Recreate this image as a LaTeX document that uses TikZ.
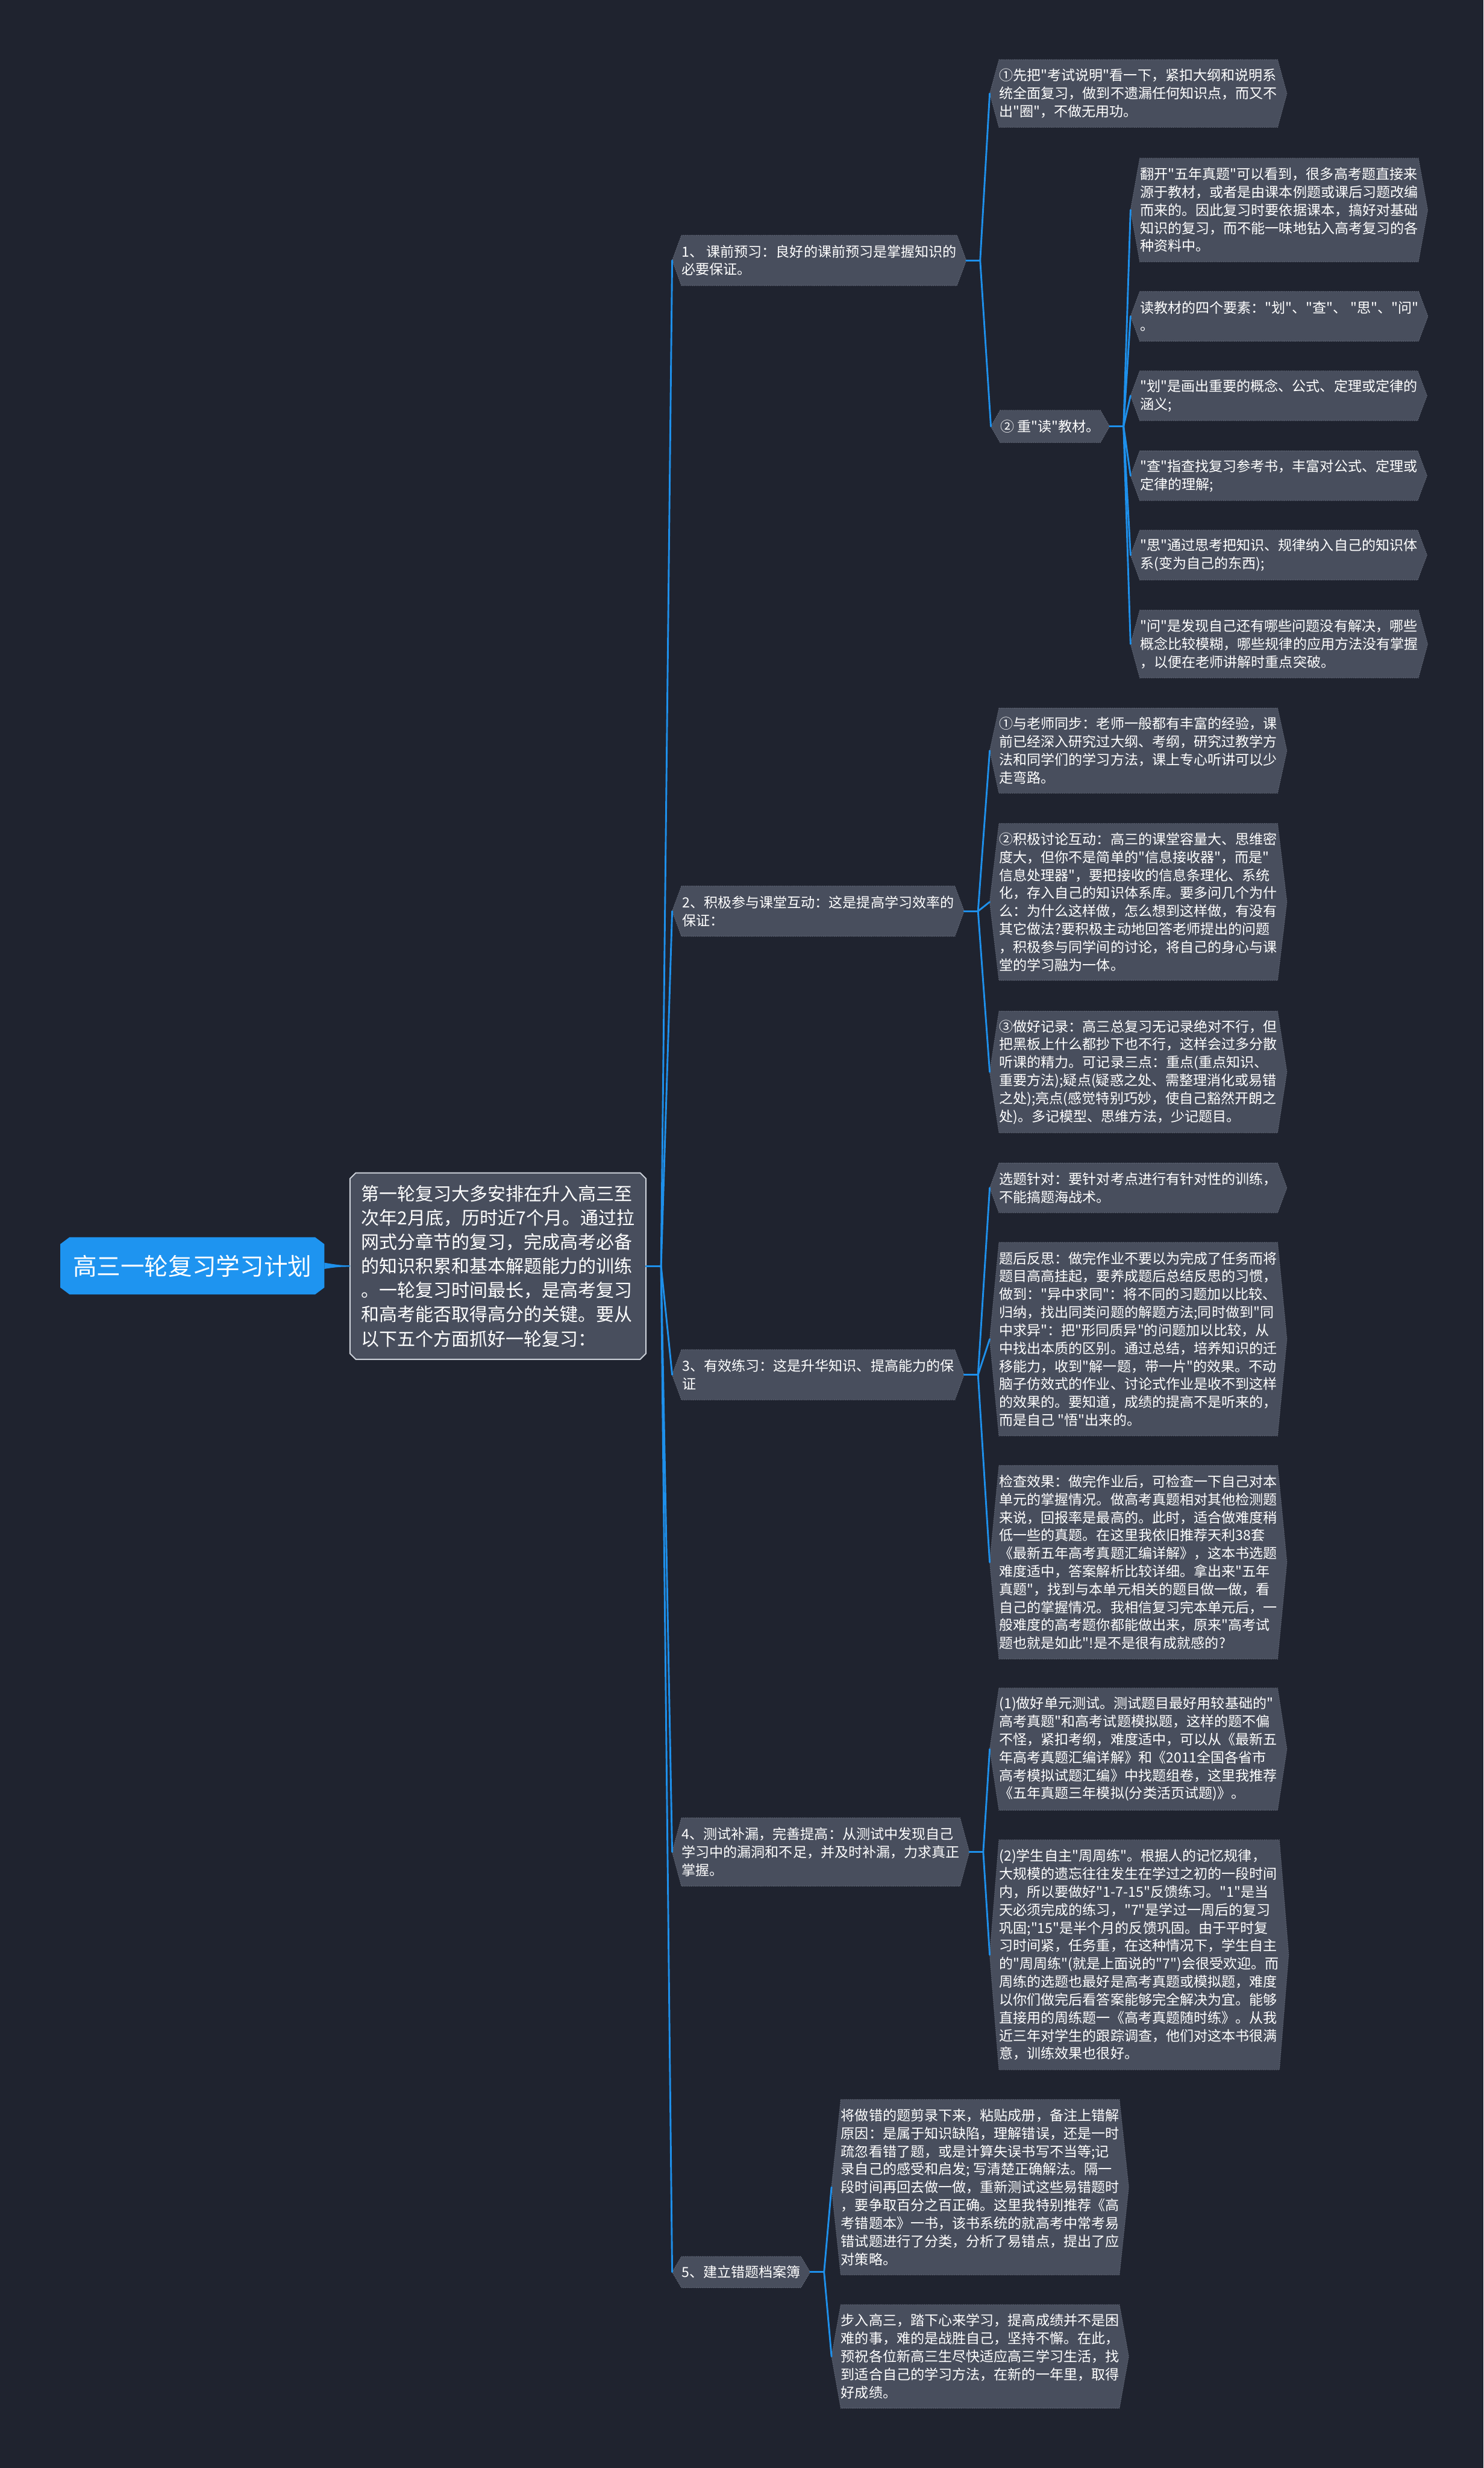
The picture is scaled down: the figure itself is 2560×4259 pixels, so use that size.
\documentclass[tikz,border=0pt]{standalone}
\usepackage{fontspec}
\setmainfont{Noto Sans CJK SC}[Ligatures=TeXOff]
\definecolor{bgc}{RGB}{31,35,47}
\definecolor{boxc}{RGB}{72,78,93}
\definecolor{boxline}{RGB}{104,110,125}
\definecolor{linkc}{RGB}{30,144,235}
\definecolor{rootc}{RGB}{30,148,240}
\definecolor{cenline}{RGB}{205,210,218}
\pgfdeclarelayer{backdrop}
\pgfdeclarelayer{shapes}
\pgfsetlayers{backdrop,shapes,main}
\newcommand{\hexfill}[1]{\path[hexshape] (#1.north west) -- (#1.north east) -- ([xshift=8pt]#1.east) -- (#1.south east) -- (#1.south west) -- ([xshift=-8pt]#1.west) -- cycle;}
\newcommand{\linkfan}[2]{\draw[link] ([xshift=8pt]#1.east) -- ([xshift=20pt]#1.east);\foreach \kid in {#2}{\draw[link] ([xshift=20pt]#1.east) -- ([xshift=-8pt]\kid.west);}}
\begin{document}
\begin{tikzpicture}[x=0.5pt,y=-0.5pt,
  txt/.style={text=white, inner sep=0pt, align=left, anchor=north west, font=\fontsize{12pt}{15.5pt}\selectfont},
  brbox/.style={txt, minimum width=235.5pt},
  lvtwo/.style={txt, minimum width=238pt},
  lvthree/.style={txt, minimum width=236pt},
  hexshape/.style={fill=boxc, draw=boxline, densely dotted, line width=0.6pt},
  link/.style={draw=linkc, line width=1.5pt, line cap=round, line join=round}]
\useasboundingbox (0,0) rectangle (2560,4259);
\begin{pgfonlayer}{backdrop}
\fill[bgc] (0,0) rectangle (2560,4259);
\end{pgfonlayer}

% root and central
\node[txt, minimum width=227.5pt, minimum height=49pt, font=\fontsize{20.6pt}{24pt}\selectfont] (root) at (104,2135) {高三一轮复习学习计划};
\node[txt, minimum width=255pt, minimum height=160.5pt, font=\fontsize{15.6pt}{20.85pt}\selectfont] (central) at (604,2024) {第一轮复习大多安排在升入高三至\\次年2月底，历时近7个月。通过拉\\网式分章节的复习，完成高考必备\\的知识积累和基本解题能力的训练\\。一轮复习时间最长，是高考复习\\和高考能否取得高分的关键。要从\\以下五个方面抓好一轮复习：};

% branches
\node[brbox, minimum height=43pt] (B1) at (1176,406) {1、 课前预习：良好的课前预习是掌握知识的\\必要保证。};
\node[brbox, minimum height=43pt] (B2) at (1176,1529) {2、积极参与课堂互动：这是提高学习效率的\\保证：};
\node[brbox, minimum height=43pt] (B3) at (1176,2329) {3、有效练习：这是升华知识、提高能力的保\\证};
\node[brbox, minimum height=58.5pt] (B4) at (1176,3137) {4、测试补漏，完善提高：从测试中发现自己\\学习中的漏洞和不足，并及时补漏，力求真正\\掌握。};
\node[txt, minimum width=97.5pt, minimum height=26.5pt] (B5) at (1176,3894) {5、建立错题档案簿};

% branch 1
\node[lvtwo, minimum height=58pt] (L11) at (1724,103) {①先把"考试说明"看一下，紧扣大纲和说明系\\统全面复习，做到不遗漏任何知识点，而又不\\出"圈"，不做无用功。};
\node[txt, minimum width=81pt, minimum height=27.5pt] (L12) at (1726,708) {② 重"读"教材。};
\node[lvthree, minimum height=89pt] (M1) at (1967,273) {翻开"五年真题"可以看到，很多高考题直接来\\源于教材，或者是由课本例题或课后习题改编\\而来的。因此复习时要依据课本，搞好对基础\\知识的复习，而不能一味地钻入高考复习的各\\种资料中。};
\node[lvthree, minimum height=42.5pt] (M2) at (1967,503) {读教材的四个要素："划"、"查"、 "思"、"问"\\。};
\node[lvthree, minimum height=42.5pt] (M3) at (1967,640) {"划"是画出重要的概念、公式、定理或定律的\\涵义;};
\node[lvthree, minimum height=42.5pt] (M4) at (1967,778) {"查"指查找复习参考书，丰富对公式、定理或\\定律的理解;};
\node[lvthree, minimum height=42.5pt] (M5) at (1967,915) {"思"通过思考把知识、规律纳入自己的知识体\\系(变为自己的东西);};
\node[lvthree, minimum height=58pt] (M6) at (1967,1053) {"问"是发现自己还有哪些问题没有解决，哪些\\概念比较模糊，哪些规律的应用方法没有掌握\\，以便在老师讲解时重点突破。};

% branch 2
\node[lvtwo, minimum height=73pt] (L21) at (1724,1222) {①与老师同步：老师一般都有丰富的经验，课\\前已经深入研究过大纲、考纲，研究过教学方\\法和同学们的学习方法，课上专心听讲可以少\\走弯路。};
\node[lvtwo, minimum height=135pt] (L22) at (1724,1421) {②积极讨论互动：高三的课堂容量大、思维密\\度大，但你不是简单的"信息接收器"，而是"\\信息处理器"，要把接收的信息条理化、系统\\化，存入自己的知识体系库。要多问几个为什\\么：为什么这样做，怎么想到这样做，有没有\\其它做法?要积极主动地回答老师提出的问题\\，积极参与同学间的讨论，将自己的身心与课\\堂的学习融为一体。};
\node[lvtwo, minimum height=104.5pt] (L23) at (1724,1745) {③做好记录：高三总复习无记录绝对不行，但\\把黑板上什么都抄下也不行，这样会过多分散\\听课的精力。可记录三点：重点(重点知识、\\重要方法);疑点(疑惑之处、需整理消化或易错\\之处);亮点(感觉特别巧妙，使自己豁然开朗之\\处)。多记模型、思维方法，少记题目。};

% branch 3
\node[lvtwo, minimum height=42.5pt] (L31) at (1724,2007) {选题针对：要针对考点进行有针对性的训练，\\不能搞题海战术。};
\node[lvtwo, minimum height=166.5pt] (L32) at (1724,2144) {题后反思：做完作业不要以为完成了任务而将\\题目高高挂起，要养成题后总结反思的习惯，\\做到："异中求同"：将不同的习题加以比较、\\归纳，找出同类问题的解题方法;同时做到"同\\中求异"：把"形同质异"的问题加以比较，从\\中找出本质的区别。通过总结，培养知识的迁\\移能力，收到"解一题，带一片"的效果。不动\\脑子仿效式的作业、讨论式作业是收不到这样\\的效果的。要知道，成绩的提高不是听来的，\\而是自己 "悟"出来的。};
\node[lvtwo, minimum height=166.5pt] (L33) at (1724,2529) {检查效果：做完作业后，可检查一下自己对本\\单元的掌握情况。做高考真题相对其他检测题\\来说，回报率是最高的。此时，适合做难度稍\\低一些的真题。在这里我依旧推荐天利38套\\《最新五年高考真题汇编详解》，这本书选题\\难度适中，答案解析比较详细。拿出来"五年\\真题"，找到与本单元相关的题目做一做，看\\自己的掌握情况。我相信复习完本单元后，一\\般难度的高考题你都能做出来，原来"高考试\\题也就是如此"!是不是很有成就感的?};

% branch 4
\node[lvtwo, minimum height=105pt] (L41) at (1724,2913) {(1)做好单元测试。测试题目最好用较基础的"\\高考真题"和高考试题模拟题，这样的题不偏\\不怪，紧扣考纲，难度适中，可以从《最新五\\年高考真题汇编详解》和《2011全国各省市\\高考模拟试题汇编》中找题组卷，这里我推荐\\《五年真题三年模拟(分类活页试题)》。};
\node[lvtwo, minimum height=198pt] (L42) at (1724,3175) {(2)学生自主"周周练"。根据人的记忆规律，\\大规模的遗忘往往发生在学过之初的一段时间\\内，所以要做好"1-7-15"反馈练习。"1"是当\\天必须完成的练习，"7"是学过一周后的复习\\巩固;"15"是半个月的反馈巩固。由于平时复\\习时间紧，任务重，在这种情况下，学生自主\\的"周周练"(就是上面说的"7")会很受欢迎。而\\周练的选题也最好是高考真题或模拟题，难度\\以你们做完后看答案能够完全解决为宜。能够\\直接用的周练题一《高考真题随时练》。从我\\近三年对学生的跟踪调查，他们对这本书很满\\意，训练效果也很好。};

% branch 5
\node[lvtwo, minimum width=235.5pt, minimum height=151pt] (L51) at (1451,3623) {将做错的题剪录下来，粘贴成册，备注上错解\\原因：是属于知识缺陷，理解错误，还是一时\\疏忽看错了题，或是计算失误书写不当等;记\\录自己的感受和启发; 写清楚正确解法。隔一\\段时间再回去做一做，重新测试这些易错题时\\，要争取百分之百正确。这里我特别推荐《高\\考错题本》一书，该书系统的就高考中常考易\\错试题进行了分类，分析了易错点，提出了应\\对策略。};
\node[lvtwo, minimum width=235.5pt, minimum height=89pt] (L52) at (1451,3977) {步入高三，踏下心来学习，提高成绩并不是困\\难的事，难的是战胜自己，坚持不懈。在此，\\预祝各位新高三生尽快适应高三学习生活，找\\到适合自己的学习方法，在新的一年里，取得\\好成绩。};

\begin{pgfonlayer}{shapes}
% root shape
\path[fill=rootc] ([xshift=8pt]root.north west) -- ([xshift=-8pt]root.north east) -- ([yshift=-6pt]root.north east) -- ([yshift=6pt]root.south east) -- ([xshift=-8pt]root.south east) -- ([xshift=8pt]root.south west) -- ([yshift=6pt]root.south west) -- ([yshift=-6pt]root.north west) -- cycle;
% central shape
\path[fill=boxc, draw=cenline, line width=1pt] ([xshift=5pt]central.north west) -- ([xshift=-5pt]central.north east) -- ([yshift=-5pt]central.north east) -- ([yshift=5pt]central.south east) -- ([xshift=-5pt]central.south east) -- ([xshift=5pt]central.south west) -- ([yshift=5pt]central.south west) -- ([yshift=-5pt]central.north west) -- cycle;
% hexagons
\foreach \nn in {B1,B2,B3,B4,B5,L11,L12,M1,M2,M3,M4,M5,M6,L21,L22,L23,L31,L32,L33,L41,L42,L51,L52}{\hexfill{\nn}}
% tapered root link
\fill[linkc] ([yshift=2.7pt]root.east) .. controls ([xshift=10pt,yshift=1pt]root.east) and ([xshift=-8pt,yshift=0.6pt]central.west) .. ([yshift=0.6pt]central.west) -- ([yshift=-0.6pt]central.west) .. controls ([xshift=-8pt,yshift=-0.6pt]central.west) and ([xshift=10pt,yshift=-1pt]root.east) .. ([yshift=-2.7pt]root.east) -- cycle;
% central fan
\draw[link] (central.east) -- ([xshift=13pt]central.east);
\foreach \kid in {B1,B2,B3,B4,B5}{\draw[link] ([xshift=13pt]central.east) -- ([xshift=-8pt]\kid.west);}
% branch fans
\linkfan{B1}{L11,L12}
\linkfan{L12}{M1,M2,M3,M4,M5,M6}
\linkfan{B2}{L21,L22,L23}
\linkfan{B3}{L31,L32,L33}
\linkfan{B4}{L41,L42}
\linkfan{B5}{L51,L52}
\end{pgfonlayer}
\end{tikzpicture}
\end{document}
